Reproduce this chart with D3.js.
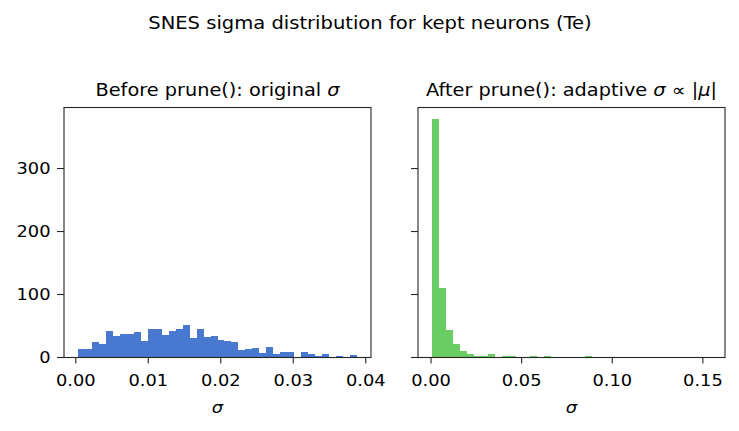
<!DOCTYPE html>
<html>
<head>
<meta charset="utf-8">
<script src="https://cdn.jsdelivr.net/npm/d3@7"></script>
<style>
  body { margin: 0; background: #fff; }
  svg text { font-family: "DejaVu Sans", sans-serif; fill: #000; }
</style>
</head>
<body>
<svg id="svg"></svg>
<script>
// histogram counts, 40 bins each
const beforeCounts = [13, 13, 24, 21, 42, 34, 37, 37, 40, 26, 45, 45, 35, 42, 45, 51, 31, 45, 32, 34,
                      28, 26, 24, 12, 13, 15, 7, 16, 5, 8, 8, 0, 8, 5, 2, 5, 1, 2, 0, 4];
const beforeRange = [0.0003, 0.0388];
const afterCounts = [378, 111, 43, 22, 11, 6, 3, 3, 5, 1, 3, 3, 0, 0, 3, 0, 3, 0, 0, 0,
                     1, 0, 3, 0, 0, 0, 0, 1, 0, 1, 1, 0, 0, 0, 0, 0, 0, 0, 0, 1];
const afterRange = [0.0005, 0.1545];
const beforeTicks = [0, 0.01, 0.02, 0.03, 0.04];
const afterTicks = [0, 0.05, 0.10, 0.15];
const yTicks = [0, 100, 200, 300];

const W = 739, H = 431;
const fs = 15.5, sx = 1.15;   // picture looks stretched sideways a bit
const svg = d3.select('#svg').attr('width', W).attr('height', H);

function textAt(x, y, str, size, anchor) {
   return svg.append('text')
      .attr('transform', `translate(${x},${y}) scale(${sx},1)`)
      .attr('text-anchor', anchor || 'middle')
      .style('font-size', size + 'px')
      .text(str);
}

function drawPanel(opts) {
   let left = opts.left, top = 107.5, w = 307, h = 250;
   let lo = opts.range[0], hi = opts.range[1];
   let pad = (hi - lo) * 0.05;
   let x = d3.scaleLinear().domain([lo - pad, hi + pad]).range([left, left + w]);
   let ymax = d3.max(allCounts) * 1.05;
   let y = d3.scaleLinear().domain([0, ymax]).range([top + h, top]);

   let step = (hi - lo) / opts.counts.length;
   svg.append('g').selectAll('rect')
      .data(opts.counts)
      .enter().append('rect')
      .attr('x', (d, i) => x(lo + i * step))
      .attr('width', (d, i) => x(lo + (i + 1) * step) - x(lo + i * step))
      .attr('y', d => y(d))
      .attr('height', d => y(0) - y(d))
      .style('fill', opts.color)
      .style('shape-rendering', 'crispEdges');

   svg.append('rect')
      .attr('x', left).attr('y', top).attr('width', w).attr('height', h)
      .style('fill', 'none').style('stroke', '#262626').style('stroke-width', 1.1);

   // x ticks
   opts.ticks.forEach(t => {
      svg.append('line')
         .attr('x1', x(t)).attr('x2', x(t)).attr('y1', top + h).attr('y2', top + h + 6)
         .style('stroke', '#262626').style('stroke-width', 1.1);
      textAt(x(t), top + h + 28, opts.fmt(t), fs);
   });
   // y ticks
   yTicks.forEach(t => {
      svg.append('line')
         .attr('x1', left - 7).attr('x2', left).attr('y1', y(t)).attr('y2', y(t))
         .style('stroke', '#262626').style('stroke-width', 1.1);
      if (opts.yLabels) textAt(left - 13.5, y(t) + 5.5, String(t), fs, 'end');
   });

   textAt(left + w / 2, top + h + 55, '', fs)
      .append('tspan').style('font-style', 'italic').text('σ');
   let title = textAt(left + w / 2, 96, opts.title, 16.8);
   if (opts.tail) title.append('tspan').style('font-style', 'italic').text(opts.tail[0]);
   if (opts.tail && opts.tail[1]) {
      title.append('tspan').text(' ∝ |');
      title.append('tspan').style('font-style', 'italic').text('μ');
      title.append('tspan').text('|');
   }
}

const allCounts = beforeCounts.concat(afterCounts);

drawPanel({ left: 64, counts: beforeCounts, range: beforeRange, color: '#4878d0',
            ticks: beforeTicks, fmt: d3.format('.2f'), yLabels: true,
            title: 'Before prune(): original ', tail: ['σ'] });
drawPanel({ left: 418, counts: afterCounts, range: afterRange, color: '#6acc64',
            ticks: afterTicks, fmt: d3.format('.2f'), yLabels: false,
            title: 'After prune(): adaptive ', tail: ['σ', true] });

textAt(370, 29, 'SNES sigma distribution for kept neurons (Te)', 17);
</script>
</body>
</html>
